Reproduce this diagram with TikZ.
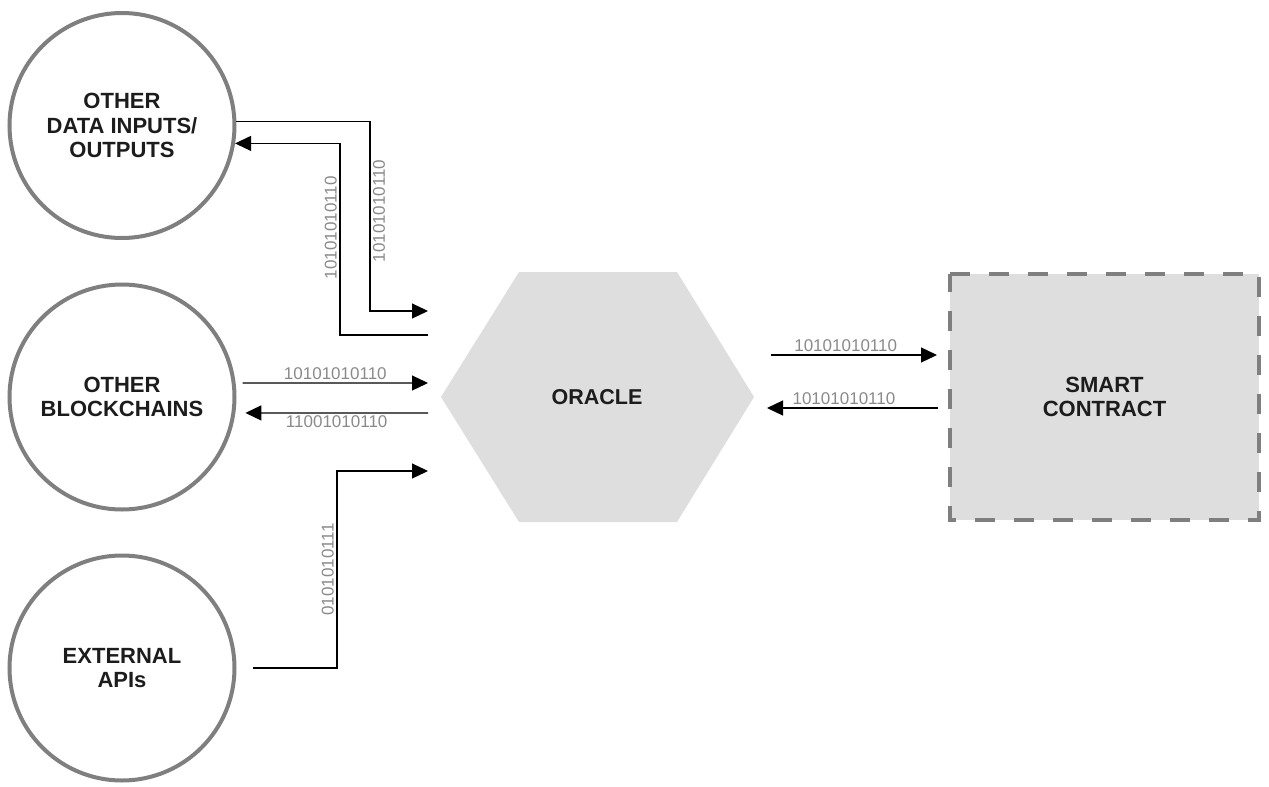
\documentclass[tikz,border=0pt]{standalone}
\usepackage{fontspec}
\setmainfont{Liberation Sans}
\usepackage{xcolor}
\usepackage{tikz}
\usetikzlibrary{arrows.meta, positioning}
\definecolor{ringgray}{HTML}{7F7F7F}
\definecolor{panelgray}{HTML}{DEDEDE}
\definecolor{bitgray}{HTML}{8A8A8A}
\definecolor{labelink}{HTML}{1C1C1C}
\tikzstyle{source} = [circle, minimum size=225pt, draw=ringgray, line width=4pt, align=center, text=labelink, font=\fontsize{22}{24.5}\selectfont\bfseries]
\tikzstyle{contract} = [rectangle, minimum width=309pt, minimum height=246pt, fill=panelgray, outer sep=0pt, align=center, text=labelink, font=\fontsize{22}{24.5}\selectfont\bfseries]
\tikzstyle{border} = [draw=ringgray, line width=4pt, dash pattern=on 20pt off 19pt]
\tikzstyle{arrow} = [line width=1.2pt, -{Triangle[length=16pt, width=15pt]}]
\tikzstyle{bits} = [font=\fontsize{17}{20}\selectfont, text=bitgray, inner sep=2.5pt]

\begin{document}
\begin{tikzpicture}[x=1pt, y=-1pt]
\useasboundingbox (0,0) rectangle (1269,787);
% sources
\node[source] (data) at (122,125.5) {OTHER\\DATA INPUTS/\\OUTPUTS};
\node[source] (chains) at (122,397) {OTHER\\BLOCKCHAINS};
\node[source] (apis) at (122,668) {EXTERNAL\\APIs};
% oracle and contract
\fill[panelgray] (441,397) -- (519,272) -- (677,272) -- (754,397) -- (677,522) -- (519,522) -- cycle;
\node[text=labelink, font=\fontsize{21.5}{25}\selectfont\bfseries] (oracle) at (597,397) {ORACLE};
\node[contract] (sc) at (1104.5,397) {SMART\\CONTRACT};
\draw[border] (sc.north west) -- (sc.north east) -- (sc.south east) -- (sc.south west) -- cycle;
% free ends next to the oracle
\coordinate (o1) at (428,311);
\coordinate (o2) at (428,335);
\coordinate (o3) at (428,383);
\coordinate (o4) at (428,413);
\coordinate (o5) at (428,471);
\coordinate (o6) at (771,355);
\coordinate (o7) at (767,408);
% connectors
\draw[arrow] (data.2.5) -- ++(133.5,0) |- node[bits, pos=0.236, rotate=90, anchor=north] {10101010110} (o1);
\draw[arrow] (o2) -- ++(-88,0) |- node[bits, pos=0.28, rotate=90, anchor=south] {10101010110} (data.-9);
\draw[arrow] ([xshift=7pt]chains.7) -- node[bits, above] {10101010110} (o3);
\draw[arrow] (o4) -- node[bits, below] {11001010110} ([xshift=10pt]chains.-8);
\draw[arrow] ([xshift=16pt]apis.east) -- ++(84.5,0) |- node[bits, pos=0.25, rotate=90, anchor=south] {0101010111} (o5);
\draw[arrow] (o6) -- node[bits, above, pos=0.45] {10101010110} ([xshift=-13pt, yshift=42pt]sc.west);
\draw[arrow] ([xshift=-12pt, yshift=-11pt]sc.west) -- node[bits, above, pos=0.55] {10101010110} (o7);
\end{tikzpicture}
\end{document}
